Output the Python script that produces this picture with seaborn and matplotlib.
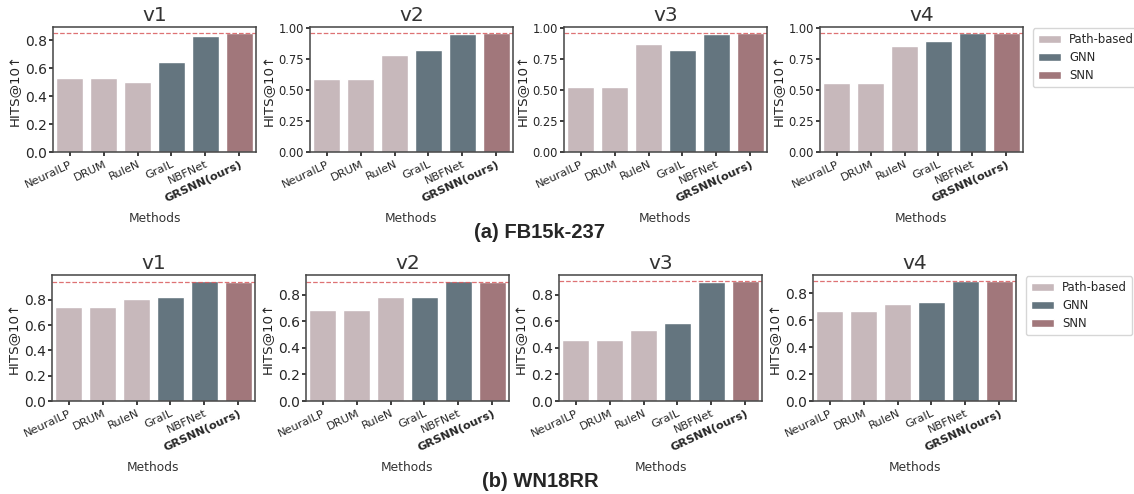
import numpy as np
import pandas as pd
import matplotlib
matplotlib.use("Agg")
import matplotlib.pyplot as plt
from matplotlib.ticker import MultipleLocator
import seaborn as sns

# ============================================================================
# DONNEES (HITS@10)
# ============================================================================
methods = ["NeuralLP", "DRUM", "RuleN", "GraIL", "NBFNet", "GRSNN(ours)"]
groups = ["Path-based", "Path-based", "Path-based", "GNN", "GNN", "SNN"]
versions = ["v1", "v2", "v3", "v4"]

fb_v1 = [0.529, 0.529, 0.498, 0.642, 0.834, 0.853]
fb_v2 = [0.589, 0.587, 0.778, 0.818, 0.949, 0.957]
fb_v3 = [0.529, 0.529, 0.877, 0.828, 0.951, 0.963]
fb_v4 = [0.559, 0.559, 0.856, 0.893, 0.960, 0.960]

wn_v1 = [0.744, 0.744, 0.809, 0.825, 0.948, 0.942]
wn_v2 = [0.689, 0.689, 0.782, 0.787, 0.905, 0.895]
wn_v3 = [0.462, 0.462, 0.534, 0.584, 0.893, 0.903]
wn_v4 = [0.671, 0.671, 0.716, 0.734, 0.890, 0.890]

datasets = [
    ("(a) FB15k-237", [fb_v1, fb_v2, fb_v3, fb_v4]),
    ("(b) WN18RR", [wn_v1, wn_v2, wn_v3, wn_v4]),
]

palette = {"Path-based": "#c9b6b9", "GNN": "#5f7684", "SNN": "#a87075"}

# ============================================================================
# FIGURE
# ============================================================================
sns.set_theme(style="ticks")
plt.rcParams["font.family"] = ["DejaVu Sans"]

fig = plt.figure(figsize=(11.34, 4.94), dpi=100)

W, H = 1134, 494
row_top = [27, 275]
row_bot = [152, 401]
col_left = [[53, 310, 564, 820], [52, 306, 559, 813]]
ax_w = 203
caption_y = [232, 481]

for r, (caption, series) in enumerate(datasets):
    for c, vals in enumerate(series):
        left = col_left[r][c] / W
        bottom = 1 - row_bot[r] / H
        height = (row_bot[r] - row_top[r]) / H
        ax = fig.add_axes([left, bottom, ax_w / W, height])

        df = pd.DataFrame({"Methods": methods, "score": vals, "group": groups})
        sns.barplot(data=df, x="Methods", y="score", hue="group", dodge=False,
                    palette=palette, edgecolor="white", linewidth=1.0,
                    width=0.8, ax=ax)
        ax.axhline(vals[-1], color="#d9595c", linestyle="--", linewidth=0.9, alpha=0.85)

        # graduations : pas de 0.25 si l'axe depasse 1
        top = ax.get_ylim()[1]
        if top >= 1.0:
            ax.yaxis.set_major_locator(MultipleLocator(0.25))
            ax.yaxis.set_major_formatter(plt.FormatStrFormatter("%.2f"))
            ysize = 8.3
        else:
            ax.yaxis.set_major_locator(MultipleLocator(0.2))
            ax.yaxis.set_major_formatter(plt.FormatStrFormatter("%.1f"))
            ysize = 10
        ax.set_ylim(0, top)

        ax.set_title(versions[c], fontsize=14.5, pad=4, color="#333333")
        ax.set_ylabel("HITS@10\u2191", fontsize=9.6, labelpad=2, color="#222222")
        ax.set_xlabel("Methods", fontsize=8.8, labelpad=6, color="#333333")
        ax.tick_params(axis="y", labelsize=ysize, length=3, pad=1.5)
        ax.tick_params(axis="x", labelsize=8.2, length=3, pad=2)
        ax.set_xticks(range(len(methods)))
        ax.set_xticklabels(methods, rotation=25, ha="right", rotation_mode="anchor")
        ax.get_xticklabels()[-1].set_fontweight("bold")
        for s in ax.spines.values():
            s.set_color("#444444")
            s.set_linewidth(1.1)

        handles, labels = ax.get_legend_handles_labels()
        if ax.get_legend() is not None:
            ax.get_legend().remove()
        if c == 3:
            ax.legend(handles, labels, loc="upper left", bbox_to_anchor=(1.05, 0.99),
                      fontsize=8.4, frameon=True, handlelength=2.0, handletextpad=0.7,
                      labelspacing=0.45, borderaxespad=0)

    fig.text(540 / W, 1 - caption_y[r] / H, caption, ha="center", va="center",
             fontsize=14.5, fontweight="bold", family=["Liberation Sans", "DejaVu Sans"])

fig.savefig("out.png", dpi=100)
